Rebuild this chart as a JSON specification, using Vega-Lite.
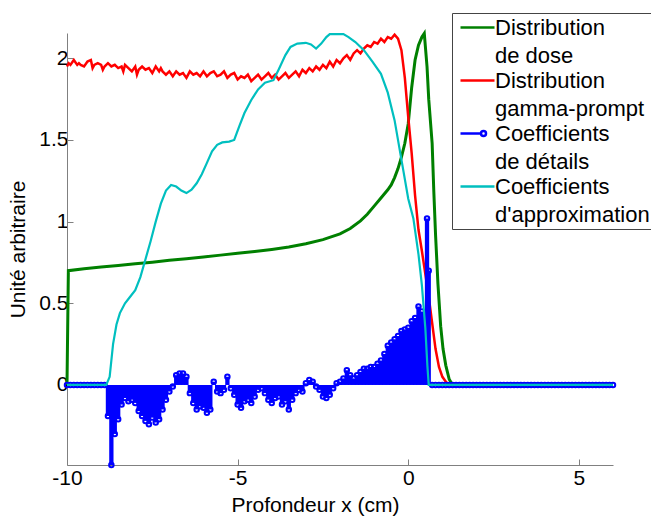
{
"$schema": "https://vega.github.io/schema/vega-lite/v6.json",
"width": 546, "height": 432,
"autosize": {"type": "none"},
"padding": {"left": 67, "top": 33, "right": 38, "bottom": 53},
"config": {
  "view": {"stroke": null},
  "font": "Liberation Sans",
  "axis": {"domainColor": "#808080", "tickColor": "#808080", "domainWidth": 1, "tickWidth": 1, "tickSize": -6, "labelFlush": false, "labelFont": "Liberation Sans", "labelFontSize": 21, "labelColor": "#000", "titleFont": "Liberation Sans", "titleFontSize": 21, "titleFontWeight": "normal", "titleColor": "#000", "grid": false}
},
"datasets": {
"dose": [{"x":-10,"y":0},{"x":-9.96,"y":0.7},{"x":-9.5,"y":0.712},{"x":-9,"y":0.722},{"x":-8.5,"y":0.732},{"x":-8,"y":0.742},{"x":-7.5,"y":0.752},{"x":-7,"y":0.763},{"x":-6.5,"y":0.773},{"x":-6,"y":0.784},{"x":-5.5,"y":0.795},{"x":-5,"y":0.806},{"x":-4.5,"y":0.817},{"x":-4,"y":0.83},{"x":-3.5,"y":0.845},{"x":-3,"y":0.865},{"x":-2.5,"y":0.89},{"x":-2,"y":0.925},{"x":-1.7,"y":0.958},{"x":-1.4,"y":1.005},{"x":-1.2,"y":1.045},{"x":-1,"y":1.095},{"x":-0.8,"y":1.145},{"x":-0.6,"y":1.195},{"x":-0.5,"y":1.225},{"x":-0.4,"y":1.27},{"x":-0.3,"y":1.325},{"x":-0.2,"y":1.395},{"x":-0.1,"y":1.48},{"x":0,"y":1.6},{"x":0.1,"y":1.82},{"x":0.2,"y":1.99},{"x":0.3,"y":2.08},{"x":0.4,"y":2.13},{"x":0.47,"y":2.152},{"x":0.55,"y":1.95},{"x":0.6,"y":1.75},{"x":0.7,"y":1.48},{"x":0.75,"y":1.18},{"x":0.8,"y":0.92},{"x":0.87,"y":0.62},{"x":0.95,"y":0.36},{"x":1.02,"y":0.22},{"x":1.1,"y":0.12},{"x":1.2,"y":0.035},{"x":1.3,"y":0},{"x":6,"y":0}],
"gamma": [{"x":-10,"y":1.95},{"x":-9.95,"y":1.97},{"x":-9.9,"y":1.96},{"x":-9.8,"y":1.99},{"x":-9.7,"y":1.96},{"x":-9.65,"y":1.97},{"x":-9.6,"y":1.96},{"x":-9.5,"y":1.95},{"x":-9.4,"y":1.98},{"x":-9.3,"y":1.99},{"x":-9.25,"y":1.94},{"x":-9.2,"y":1.96},{"x":-9.1,"y":1.97},{"x":-9,"y":1.96},{"x":-8.95,"y":1.93},{"x":-8.9,"y":1.95},{"x":-8.8,"y":1.97},{"x":-8.7,"y":1.95},{"x":-8.6,"y":1.96},{"x":-8.5,"y":1.94},{"x":-8.4,"y":1.95},{"x":-8.35,"y":1.92},{"x":-8.3,"y":1.96},{"x":-8.2,"y":1.94},{"x":-8.1,"y":1.92},{"x":-8,"y":1.95},{"x":-7.95,"y":1.9},{"x":-7.9,"y":1.93},{"x":-7.8,"y":1.95},{"x":-7.7,"y":1.93},{"x":-7.6,"y":1.94},{"x":-7.5,"y":1.91},{"x":-7.4,"y":1.95},{"x":-7.3,"y":1.92},{"x":-7.25,"y":1.94},{"x":-7.2,"y":1.92},{"x":-7.1,"y":1.9},{"x":-7,"y":1.92},{"x":-6.9,"y":1.89},{"x":-6.8,"y":1.92},{"x":-6.7,"y":1.9},{"x":-6.6,"y":1.91},{"x":-6.5,"y":1.88},{"x":-6.4,"y":1.92},{"x":-6.3,"y":1.9},{"x":-6.2,"y":1.91},{"x":-6.1,"y":1.89},{"x":-6,"y":1.92},{"x":-5.9,"y":1.89},{"x":-5.8,"y":1.91},{"x":-5.7,"y":1.92},{"x":-5.6,"y":1.89},{"x":-5.5,"y":1.9},{"x":-5.4,"y":1.92},{"x":-5.3,"y":1.88},{"x":-5.2,"y":1.9},{"x":-5.1,"y":1.91},{"x":-5,"y":1.87},{"x":-4.9,"y":1.89},{"x":-4.8,"y":1.88},{"x":-4.7,"y":1.9},{"x":-4.6,"y":1.86},{"x":-4.5,"y":1.88},{"x":-4.4,"y":1.9},{"x":-4.3,"y":1.87},{"x":-4.2,"y":1.89},{"x":-4.1,"y":1.91},{"x":-4,"y":1.88},{"x":-3.9,"y":1.9},{"x":-3.8,"y":1.87},{"x":-3.7,"y":1.89},{"x":-3.6,"y":1.91},{"x":-3.5,"y":1.88},{"x":-3.4,"y":1.9},{"x":-3.3,"y":1.92},{"x":-3.2,"y":1.89},{"x":-3.1,"y":1.93},{"x":-3,"y":1.91},{"x":-2.9,"y":1.94},{"x":-2.8,"y":1.92},{"x":-2.7,"y":1.95},{"x":-2.6,"y":1.93},{"x":-2.5,"y":1.96},{"x":-2.4,"y":1.94},{"x":-2.3,"y":1.98},{"x":-2.2,"y":1.95},{"x":-2.1,"y":1.99},{"x":-2,"y":1.97},{"x":-1.9,"y":2},{"x":-1.8,"y":2.02},{"x":-1.7,"y":1.99},{"x":-1.6,"y":2.03},{"x":-1.5,"y":2.05},{"x":-1.4,"y":2.03},{"x":-1.3,"y":2.06},{"x":-1.2,"y":2.08},{"x":-1.1,"y":2.07},{"x":-1,"y":2.1},{"x":-0.9,"y":2.09},{"x":-0.8,"y":2.12},{"x":-0.7,"y":2.1},{"x":-0.6,"y":2.13},{"x":-0.5,"y":2.12},{"x":-0.4,"y":2.145},{"x":-0.3,"y":2.12},{"x":-0.2,"y":2.05},{"x":-0.1,"y":1.88},{"x":0,"y":1.64},{"x":0.1,"y":1.42},{"x":0.2,"y":1.16},{"x":0.3,"y":0.95},{"x":0.4,"y":0.82},{"x":0.5,"y":0.68},{"x":0.6,"y":0.54},{"x":0.7,"y":0.38},{"x":0.8,"y":0.22},{"x":0.9,"y":0.11},{"x":1,"y":0.05},{"x":1.1,"y":0.02},{"x":1.2,"y":0},{"x":6,"y":0}],
"approx": [{"x":-10,"y":0},{"x":-8.85,"y":0},{"x":-8.75,"y":0.05},{"x":-8.65,"y":0.25},{"x":-8.55,"y":0.37},{"x":-8.45,"y":0.44},{"x":-8.3,"y":0.5},{"x":-8.15,"y":0.54},{"x":-8,"y":0.58},{"x":-7.85,"y":0.66},{"x":-7.7,"y":0.77},{"x":-7.55,"y":0.88},{"x":-7.4,"y":1},{"x":-7.25,"y":1.11},{"x":-7.1,"y":1.19},{"x":-6.95,"y":1.225},{"x":-6.8,"y":1.215},{"x":-6.65,"y":1.19},{"x":-6.5,"y":1.175},{"x":-6.35,"y":1.195},{"x":-6.2,"y":1.235},{"x":-6.05,"y":1.29},{"x":-5.9,"y":1.36},{"x":-5.75,"y":1.43},{"x":-5.6,"y":1.47},{"x":-5.45,"y":1.485},{"x":-5.25,"y":1.49},{"x":-5.1,"y":1.5},{"x":-4.95,"y":1.585},{"x":-4.8,"y":1.665},{"x":-4.6,"y":1.745},{"x":-4.4,"y":1.81},{"x":-4.2,"y":1.85},{"x":-3.95,"y":1.866},{"x":-3.8,"y":1.93},{"x":-3.6,"y":2.02},{"x":-3.45,"y":2.07},{"x":-3.25,"y":2.09},{"x":-3,"y":2.095},{"x":-2.85,"y":2.085},{"x":-2.7,"y":2.06},{"x":-2.55,"y":2.09},{"x":-2.4,"y":2.13},{"x":-2.3,"y":2.148},{"x":-1.9,"y":2.148},{"x":-1.75,"y":2.13},{"x":-1.55,"y":2.1},{"x":-1.3,"y":2.05},{"x":-1.05,"y":1.98},{"x":-0.8,"y":1.905},{"x":-0.6,"y":1.79},{"x":-0.4,"y":1.62},{"x":-0.2,"y":1.38},{"x":0,"y":1.14},{"x":0.15,"y":1.02},{"x":0.3,"y":0.8},{"x":0.4,"y":0.61},{"x":0.5,"y":0.35},{"x":0.56,"y":0.12},{"x":0.6,"y":0},{"x":6,"y":0}],
"det": [{"x":-10,"y":0},{"x":-9.9,"y":0},{"x":-9.8,"y":0},{"x":-9.7,"y":0},{"x":-9.6,"y":0},{"x":-9.5,"y":0},{"x":-9.4,"y":0},{"x":-9.3,"y":0},{"x":-9.2,"y":0},{"x":-9.1,"y":0},{"x":-9,"y":0},{"x":-8.9,"y":0},
{"x":-8.8,"y":-0.19},{"x":-8.7,"y":-0.49},{"x":-8.6,"y":-0.3},{"x":-8.5,"y":-0.21},{"x":-8.4,"y":-0.12},{"x":-8.3,"y":-0.08},{"x":-8.2,"y":-0.1},{"x":-8.1,"y":-0.09},{"x":-8,"y":-0.11},{"x":-7.9,"y":-0.16},{"x":-7.8,"y":-0.19},{"x":-7.7,"y":-0.22},{"x":-7.6,"y":-0.24},{"x":-7.5,"y":-0.2},{"x":-7.4,"y":-0.23},{"x":-7.3,"y":-0.21},{"x":-7.2,"y":-0.15},{"x":-7.1,"y":-0.09},{"x":-7,"y":-0.04},{"x":-6.9,"y":-0.01},{"x":-6.8,"y":0.06},{"x":-6.7,"y":0.07},{"x":-6.6,"y":0.07},{"x":-6.5,"y":0.05},{"x":-6.4,"y":-0.05},{"x":-6.3,"y":-0.11},{"x":-6.2,"y":-0.15},{"x":-6.1,"y":-0.13},{"x":-6,"y":-0.14},{"x":-5.9,"y":-0.17},{"x":-5.8,"y":-0.15},{"x":-5.7,"y":0.02},{"x":-5.6,"y":-0.04},{"x":-5.5,"y":-0.05},{"x":-5.4,"y":-0.03},{"x":-5.3,"y":0.05},{"x":-5.2,"y":-0.02},{"x":-5.1,"y":-0.06},{"x":-5,"y":-0.12},{"x":-4.9,"y":-0.14},{"x":-4.8,"y":-0.1},{"x":-4.7,"y":-0.09},{"x":-4.6,"y":-0.11},{"x":-4.5,"y":-0.07},{"x":-4.4,"y":-0.03},{"x":-4.3,"y":-0.02},{"x":-4.2,"y":-0.05},{"x":-4.1,"y":-0.09},{"x":-4,"y":-0.11},{"x":-3.9,"y":-0.08},{"x":-3.8,"y":-0.07},{"x":-3.7,"y":-0.12},{"x":-3.6,"y":-0.1},{"x":-3.5,"y":-0.15},{"x":-3.4,"y":-0.09},{"x":-3.3,"y":-0.05},{"x":-3.2,"y":-0.03},{"x":-3.1,"y":-0.04},{"x":-3,"y":0.01},{"x":-2.9,"y":0.03},{"x":-2.8,"y":0.02},{"x":-2.7,"y":-0.01},{"x":-2.6,"y":-0.03},{"x":-2.5,"y":-0.07},{"x":-2.4,"y":-0.08},{"x":-2.3,"y":-0.06},{"x":-2.2,"y":-0.02},{"x":-2.1,"y":0.01},{"x":-2,"y":0.02},{"x":-1.9,"y":0.04},{"x":-1.8,"y":0.09},{"x":-1.7,"y":0.06},{"x":-1.6,"y":0.04},{"x":-1.5,"y":0.06},{"x":-1.4,"y":0.08},{"x":-1.3,"y":0.1},{"x":-1.2,"y":0.1},{"x":-1.1,"y":0.11},{"x":-1,"y":0.11},{"x":-0.9,"y":0.13},{"x":-0.8,"y":0.15},{"x":-0.7,"y":0.19},{"x":-0.6,"y":0.24},{"x":-0.5,"y":0.26},{"x":-0.4,"y":0.28},{"x":-0.3,"y":0.3},{"x":-0.2,"y":0.33},{"x":-0.1,"y":0.34},{"x":0,"y":0.35},{"x":0.1,"y":0.39},{"x":0.2,"y":0.41},{"x":0.3,"y":0.48},{"x":0.4,"y":0.45},{"x":0.5,"y":0.42},{"x":0.55,"y":1.02},{"x":0.6,"y":0.7},
{"x":0.7,"y":0},{"x":0.8,"y":0},{"x":0.9,"y":0},{"x":1,"y":0},{"x":1.1,"y":0},{"x":1.2,"y":0},{"x":1.3,"y":0},{"x":1.4,"y":0},{"x":1.5,"y":0},{"x":1.6,"y":0},{"x":1.7,"y":0},{"x":1.8,"y":0},{"x":1.9,"y":0},{"x":2,"y":0},{"x":2.1,"y":0},{"x":2.2,"y":0},{"x":2.3,"y":0},{"x":2.4,"y":0},{"x":2.5,"y":0},{"x":2.6,"y":0},{"x":2.7,"y":0},{"x":2.8,"y":0},{"x":2.9,"y":0},{"x":3,"y":0},{"x":3.1,"y":0},{"x":3.2,"y":0},{"x":3.3,"y":0},{"x":3.4,"y":0},{"x":3.5,"y":0},{"x":3.6,"y":0},{"x":3.7,"y":0},{"x":3.8,"y":0},{"x":3.9,"y":0},{"x":4,"y":0},{"x":4.1,"y":0},{"x":4.2,"y":0},{"x":4.3,"y":0},{"x":4.4,"y":0},{"x":4.5,"y":0},{"x":4.6,"y":0},{"x":4.7,"y":0},{"x":4.8,"y":0},{"x":4.9,"y":0},{"x":5,"y":0},{"x":5.1,"y":0},{"x":5.2,"y":0},{"x":5.3,"y":0},{"x":5.4,"y":0},{"x":5.5,"y":0},{"x":5.6,"y":0},{"x":5.7,"y":0},{"x":5.8,"y":0},{"x":5.9,"y":0},{"x":6,"y":0}]
},
"encoding": {
  "x": {"field": "x", "type": "quantitative", "scale": {"domain": [-10, 6], "nice": false, "zero": false},
        "axis": {"values": [-10, -5, 0, 5], "labelExpr": "'' + datum.value", "labelPadding": 8, "title": "Profondeur x (cm)", "titleX": 248, "titlePadding": 6}},
  "y": {"field": "y", "type": "quantitative", "scale": {"domain": [-0.49, 2.155], "nice": false, "zero": false},
        "axis": {"values": [0, 0.5, 1, 1.5, 2], "labelExpr": "'' + datum.value", "labelPadding": 5, "title": "Unité arbitraire", "titlePadding": 10}}
},
"layer": [
  {"data": {"name": "dose"}, "mark": {"type": "line", "strokeWidth": 3},
   "encoding": {"color": {"datum": "Distribution|de dose", "type": "nominal",
     "scale": {"domain": ["Distribution|de dose", "Distribution|gamma-prompt", "Coefficients|de détails", "Coefficients|d'approximation"], "range": ["#008000", "#ff0000", "#0000ff", "#00bfbf"]},
     "legend": {"orient": "none", "legendX": 385, "legendY": -20, "title": null, "symbolType": "M-1.7,0H1.7", "symbolSize": 400, "symbolStrokeWidth": 2.5, "symbolFillColor": "transparent", "symbolOffset": 11, "labelExpr": "split(datum.label, '|')", "labelFontSize": 22, "labelFont": "Liberation Sans", "labelColor": "#000", "labelLimit": 400, "labelOffset": 6, "labelBaseline": "middle", "padding": 3, "strokeColor": "#444", "fillColor": "#fff", "rowPadding": 2,
       "encode": {"labels": {"update": {"lineHeight": {"value": 28}}},
                  "symbols": {"update": {"shape": {"signal": "datum.value === 'Coefficients|de détails' ? 'M-1.7,0H0.35M0.85,0A0.25,0.25 0 1,1 0.35,0A0.25,0.25 0 1,1 0.85,0' : 'M-1.7,0H1.7'"}}}}}}}},
  {"data": {"name": "gamma"}, "mark": {"type": "line", "strokeWidth": 2.5},
   "encoding": {"color": {"datum": "Distribution|gamma-prompt", "type": "nominal"}}},
  {"data": {"name": "det"}, "mark": {"type": "rule", "strokeWidth": 4.3},
   "encoding": {"y2": {"datum": 0}, "color": {"datum": "Coefficients|de détails", "type": "nominal"}}},
  {"mark": {"type": "rule", "color": "#000", "strokeWidth": 1}, "encoding": {"y": {"datum": 0}, "x": null}},
  {"data": {"name": "det"}, "mark": {"type": "point", "shape": "circle", "filled": false, "size": 20, "strokeWidth": 2, "opacity": 1},
   "encoding": {"color": {"datum": "Coefficients|de détails", "type": "nominal"}}},
  {"data": {"name": "approx"}, "mark": {"type": "line", "strokeWidth": 2.2},
   "encoding": {"color": {"datum": "Coefficients|d'approximation", "type": "nominal"}}}
]
}
